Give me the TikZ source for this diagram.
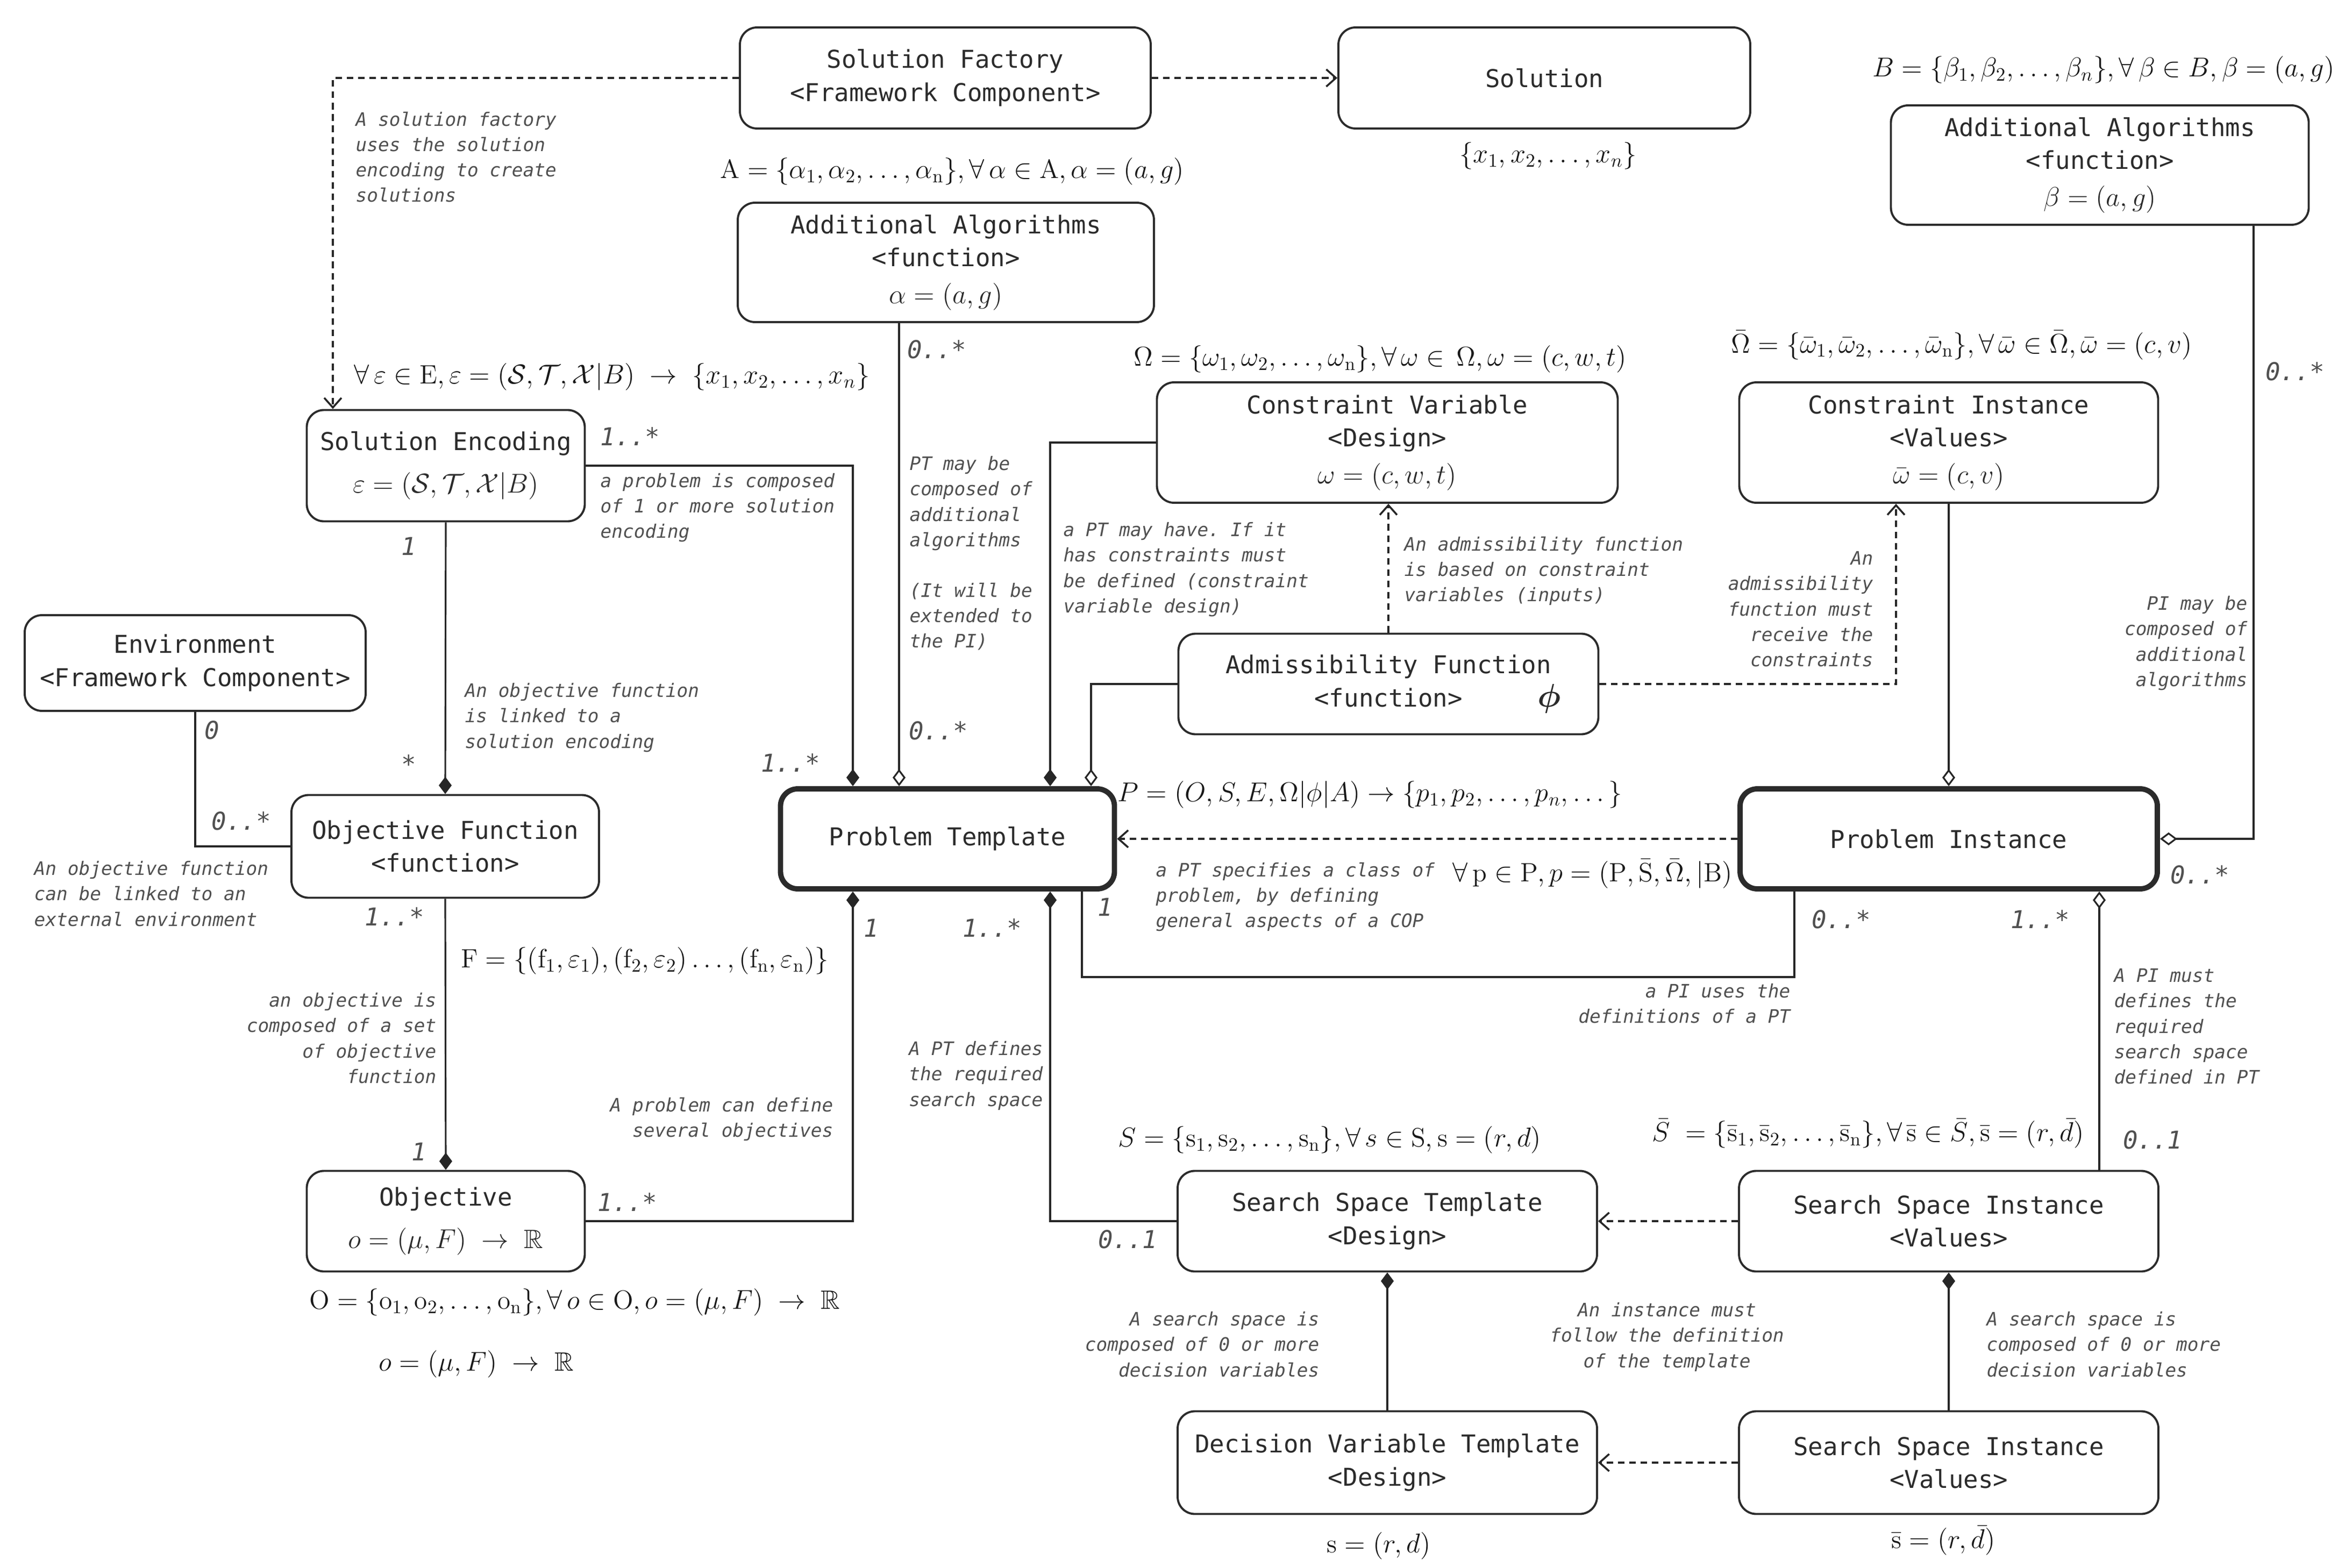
\documentclass[tikz,border=0pt]{standalone}
\usepackage{amsmath,amssymb}
\usepackage{fontspec}
\setmonofont{DejaVu Sans Mono}
\usetikzlibrary{arrows.meta}
\definecolor{ink}{HTML}{2B2B2B}
\definecolor{notegray}{HTML}{505050}

\begin{document}
\begin{tikzpicture}[
umlbox/.style={draw=ink,line width=1.1pt,rounded corners=0.32cm,align=center,text=ink,inner sep=1pt,font=\fontsize{13}{17.5}\selectfont\ttfamily},
umlbold/.style={umlbox,line width=2.8pt},
remark/.style={inner sep=0pt,text=notegray,font=\fontsize{9.8}{13.4}\selectfont\ttfamily\itshape},
mult/.style={inner sep=0pt,text=notegray,font=\fontsize{13}{15}\selectfont\ttfamily\itshape},
formula/.style={inner sep=0pt,text=black!90,font=\fontsize{14}{17}\selectfont},
link/.style={draw=black!85,line width=0.9pt},
compose/.style={link,-{Diamond[length=3.2mm,width=2.4mm]}},
aggregate/.style={link,-{Diamond[open,length=3.2mm,width=2.4mm]}},
depends/.style={link,line width=1pt,dash pattern=on 3.5pt off 2.5pt,-{Straight Barb[length=1.8mm,width=3.2mm]}}
]
\fill[white] (0,0) rectangle (43.61,-29.16);

\node[umlbox,minimum width=7.64cm,minimum height=1.88cm] (sf) at (17.58,-1.45) {Solution Factory\\<Framework Component>};
\node[umlbox,minimum width=7.66cm,minimum height=1.88cm] (sol) at (28.72,-1.45) {Solution};
\node[umlbox,minimum width=7.74cm,minimum height=2.22cm] (addA) at (17.59,-4.88) {Additional Algorithms\\<function>\\[2pt]{\fontsize{14}{17}\selectfont$\alpha=(a,g)$}};
\node[umlbox,minimum width=7.77cm,minimum height=2.22cm] (addB) at (39.05,-3.07) {Additional Algorithms\\<function>\\[2pt]{\fontsize{14}{17}\selectfont$\beta=(a,g)$}};
\node[umlbox,minimum width=5.17cm,minimum height=2.07cm] (se) at (8.29,-8.66) {Solution Encoding\\[5pt]{\fontsize{14}{17}\selectfont$\varepsilon=(\mathcal{S},\mathcal{T},\mathcal{X}|B)$}};
\node[umlbox,minimum width=8.57cm,minimum height=2.24cm] (cv) at (25.80,-8.23) {Constraint Variable\\<Design>\\[2pt]{\fontsize{14}{17}\selectfont$\omega=(c,w,t)$}};
\node[umlbox,minimum width=7.79cm,minimum height=2.24cm] (ci) at (36.24,-8.23) {Constraint Instance\\<Values>\\[2pt]{\fontsize{14}{17}\selectfont$\bar{\omega}=(c,v)$}};
\node[umlbox,minimum width=7.81cm,minimum height=1.87cm] (af) at (25.82,-12.72) {Admissibility Function\\<function>\makebox[0pt][l]{\hspace{1.4cm}{\fontsize{16}{17}\selectfont$\boldsymbol{\phi}$}}};
\node[umlbox,minimum width=6.34cm,minimum height=1.78cm] (env) at (3.63,-12.33) {Environment\\<Framework Component>};
\node[umlbox,minimum width=5.72cm,minimum height=1.91cm] (of) at (8.28,-15.74) {Objective Function\\<function>};
\node[umlbold,minimum width=6.21cm,minimum height=1.86cm] (pt) at (17.62,-15.60) {Problem Template};
\node[umlbold,minimum width=7.76cm,minimum height=1.86cm] (pi) at (36.24,-15.60) {Problem Instance};
\node[umlbox,minimum width=5.17cm,minimum height=1.87cm] (obj) at (8.29,-22.71) {Objective\\[5pt]{\fontsize{14}{17}\selectfont$o=(\mu,F)\;\to\;\mathbb{R}$}};
\node[umlbox,minimum width=7.80cm,minimum height=1.87cm] (sst) at (25.80,-22.71) {Search Space Template\\<Design>};
\node[umlbox,minimum width=7.80cm,minimum height=1.87cm] (ssi) at (36.24,-22.71) {Search Space Instance\\<Values>};
\node[umlbox,minimum width=7.80cm,minimum height=1.91cm] (dvt) at (25.80,-27.20) {Decision Variable Template\\<Design>};
\node[umlbox,minimum width=7.80cm,minimum height=1.91cm] (ssiB) at (36.24,-27.20) {Search Space Instance\\<Values>};

\node[formula] (fA) at (17.71,-3.19) {$\mathrm{A}=\{\alpha_1,\alpha_2,\dots,\alpha_\mathrm{n}\},\forall\,\alpha\in\mathrm{A},\alpha=(a,g)$};
\node[formula] (fX) at (28.79,-2.90) {$\{x_1,x_2,\dots,x_n\}$};
\node[formula] (fB) at (39.12,-1.30) {$B=\{\beta_1,\beta_2,\dots,\beta_n\},\forall\,\beta\in B,\beta=(a,g)$};
\node[formula] (fE) at (11.38,-7.01) {$\forall\,\varepsilon\in\mathrm{E},\varepsilon=(\mathcal{S},\mathcal{T},\mathcal{X}|B)\;\to\;\{x_1,x_2,\dots,x_n\}$};
\node[formula] (fOm) at (25.67,-6.68) {$\Omega=\{\omega_1,\omega_2,\dots,\omega_\mathrm{n}\},\forall\,\omega\in\,\Omega,\omega=(c,w,t)$};
\node[formula] (fOmB) at (36.48,-6.42) {$\bar{\Omega}=\{\bar{\omega}_1,\bar{\omega}_2,\dots,\bar{\omega}_\mathrm{n}\},\forall\,\bar{\omega}\in\bar{\Omega},\bar{\omega}=(c,v)$};
\node[formula] (fP) at (25.48,-14.78) {$P=(O,S,E,\Omega|\phi|A)\to\{p_1,p_2,\dots,p_n,\dots\}$};
\node[formula] (fp) at (29.62,-16.25) {$\forall\,\mathrm{p}\in\mathrm{P},p=(\mathrm{P},\bar{\mathrm{S}},\bar{\Omega},|\mathrm{B})$};
\node[formula] (fF) at (11.99,-17.87) {$\mathrm{F}=\{(\mathrm{f}_1,\varepsilon_1),(\mathrm{f}_2,\varepsilon_2)\dots,(\mathrm{f}_\mathrm{n},\varepsilon_\mathrm{n})\}$};
\node[formula] (fS) at (24.73,-21.20) {$S=\{\mathrm{s}_1,\mathrm{s}_2,\dots,\mathrm{s}_\mathrm{n}\},\forall\,s\in\mathrm{S},\mathrm{s}=(r,d)$};
\node[formula] (fSb) at (34.74,-21.08) {$\bar{S}\;=\{\bar{\mathrm{s}}_1,\bar{\mathrm{s}}_2,\dots,\bar{\mathrm{s}}_\mathrm{n}\},\forall\,\bar{\mathrm{s}}\in\bar{S},\bar{\mathrm{s}}=(r,\bar{d})$};
\node[formula] (fO) at (10.69,-24.22) {$\mathrm{O}=\{\mathrm{o}_1,\mathrm{o}_2,\dots,\mathrm{o}_\mathrm{n}\},\forall\,o\in\mathrm{O},o=(\mu,F)\;\to\;\mathbb{R}$};
\node[formula] (fo) at (8.86,-25.37) {$o=(\mu,F)\;\to\;\mathbb{R}$};
\node[formula] (fs) at (25.64,-28.75) {$\mathrm{s}=(r,d)$};
\node[formula] (fsb) at (36.14,-28.65) {$\bar{\mathrm{s}}=(r,\bar{d})$};

\coordinate (ptA) at ([xshift=-1.76cm]pt.north);
\coordinate (ptB) at ([xshift=-0.90cm]pt.north);
\coordinate (ptC) at ([xshift=1.91cm]pt.north);
\coordinate (ptD) at ([xshift=2.67cm]pt.north);
\coordinate (ptE) at ([xshift=-1.76cm]pt.south);
\coordinate (ptF) at ([xshift=1.91cm]pt.south);
\coordinate (ptG) at ([xshift=2.50cm]pt.south);
\coordinate (piA) at ([xshift=-2.87cm]pi.south);
\coordinate (piB) at ([xshift=2.80cm]pi.south);
\coordinate (addBout) at ([xshift=2.86cm]addB.south);
\coordinate (seIn) at ([xshift=-2.10cm]se.north);
\coordinate (ciIn) at ([xshift=-0.98cm]ci.south);

\draw[depends] (sf.east) -- (sol.west);
\draw[depends] (sf.west) -| (seIn);
\draw[compose] (se.east) -| (ptA);
\draw[aggregate] (addA.south -| ptB) -- (ptB);
\draw[compose] (cv.west) -| (ptC);
\draw[aggregate] (af.west) -| (ptD);
\draw[depends] (af.north) -- (af.north |- cv.south);
\draw[depends] (af.east) -| (ciIn);
\draw[aggregate] (ci.south) -- (pi.north);
\draw[aggregate] (addBout) |- (pi.east);
\draw[depends] (pi.west) -- (pt.east);
\draw[link] (ptG) -- ++(0,-1.59) -| (piA);
\draw[aggregate] (ssi.north -| piB) -- (piB);
\draw[compose] (se.south) -- (of.north);
\draw[link] (env.south) |- (of.west);
\draw[compose] (of.south) -- (obj.north);
\draw[compose] (obj.east) -| (ptE);
\draw[compose] (sst.west) -| (ptF);
\draw[depends] (ssi.west) -- (sst.east);
\draw[compose] (dvt.north) -- (sst.south);
\draw[compose] (ssiB.north) -- (ssi.south);
\draw[depends] (ssiB.west) -- (dvt.east);

\node[remark,anchor=north west,align=left] (rSF) at (6.61,-2.07) {A solution factory\\uses the solution\\encoding to create\\solutions};
\node[remark,anchor=north west,align=left] (rSE) at (11.16,-8.79) {a problem is composed\\of 1 or more solution\\encoding};
\node[remark,anchor=north west,align=left] (rAA) at (16.91,-8.48) {PT may be\\composed of\\additional\\algorithms\\[13.4pt](It will be\\extended to\\the PI)};
\node[remark,anchor=north west,align=left] (rCV) at (19.77,-9.71) {a PT may have. If it\\has constraints must\\be defined (constraint\\variable design)};
\node[remark,anchor=north west,align=left] (rAF) at (26.11,-9.97) {An admissibility function\\is based on constraint\\variables (inputs)};
\node[remark,anchor=north east,align=right] (rCI) at (34.84,-10.25) {An\\admissibility\\function must\\receive the\\constraints};
\node[remark,anchor=north east,align=right] (rPI) at (41.80,-11.08) {PI may be\\composed of\\additional\\algorithms};
\node[remark,anchor=north west,align=left] (rOF) at (8.64,-12.70) {An objective function\\is linked to a\\solution encoding};
\node[remark,anchor=north west,align=left] (rEnv) at (0.63,-16.01) {An objective function\\can be linked to an\\external environment};
\node[remark,anchor=north east,align=right] (rObj) at (8.12,-18.46) {an objective is\\composed of a set\\of objective\\function};
\node[remark,anchor=north east,align=right] (rPTo) at (15.50,-20.40) {A problem can define\\several objectives};
\node[remark,anchor=north east,align=right] (rPTs) at (19.40,-19.36) {A PT defines\\the required\\search space};
\node[remark,anchor=north west,align=left] (rPTPI) at (21.49,-16.03) {a PT specifies a class of\\problem, by defining\\general aspects of a COP};
\node[remark,anchor=north east,align=right] (rPIPT) at (33.30,-18.29) {a PI uses the\\definitions of a PT};
\node[remark,anchor=north west,align=left] (rPIs) at (39.31,-18.01) {A PI must\\defines the\\required\\search space\\defined in PT};
\node[remark,anchor=north east,align=right] (rSST) at (24.54,-24.39) {A search space is\\composed of 0 or more\\decision variables};
\node[remark,anchor=north,align=center] (rInst) at (31.00,-24.22) {An instance must\\follow the definition\\of the template};
\node[remark,anchor=north west,align=left] (rSSI) at (36.94,-24.39) {A search space is\\composed of 0 or more\\decision variables};

\node[mult] (m1) at (11.72,-8.12) {1..*};
\node[mult] (m2) at (7.60,-10.16) {1};
\node[mult] (m3) at (17.42,-6.50) {0..*};
\node[mult] (m4) at (17.45,-13.59) {0..*};
\node[mult] (m5) at (14.70,-14.19) {1..*};
\node[mult] (m6) at (7.60,-14.21) {*};
\node[mult] (m7) at (3.94,-13.58) {0};
\node[mult] (m8) at (4.49,-15.27) {0..*};
\node[mult] (m9) at (7.34,-17.05) {1..*};
\node[mult] (m10) at (7.79,-21.42) {1};
\node[mult] (m11) at (11.67,-22.36) {1..*};
\node[mult] (m12) at (16.20,-17.26) {1};
\node[mult] (m13) at (18.45,-17.26) {1..*};
\node[mult] (m14) at (20.55,-16.87) {1};
\node[mult] (m15) at (20.97,-23.05) {0..1};
\node[mult] (m16) at (34.24,-17.10) {0..*};
\node[mult] (m17) at (37.94,-17.10) {1..*};
\node[mult] (m18) at (40.91,-16.27) {0..*};
\node[mult] (m19) at (40.03,-21.20) {0..1};
\node[mult] (m20) at (42.68,-6.91) {0..*};
\end{tikzpicture}
\end{document}
